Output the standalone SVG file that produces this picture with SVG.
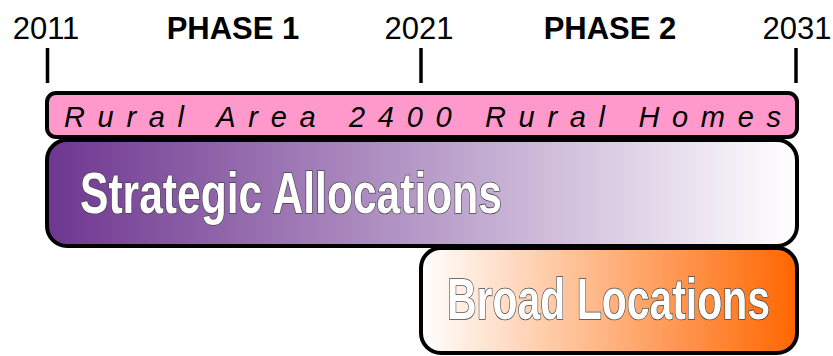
<svg xmlns="http://www.w3.org/2000/svg" width="833" height="356" viewBox="0 0 833 356">
<defs>
<style>
.yr{font-family:"Liberation Sans",Arial,sans-serif;font-size:31px;fill:#000;text-anchor:middle}
.ph{font-family:"Liberation Sans",Arial,sans-serif;font-size:31px;font-weight:bold;fill:#000;text-anchor:middle}
.tick{stroke:#000;stroke-width:3.5}
.box{stroke:#000;stroke-width:4}
.big{font-family:"Liberation Sans",Arial,sans-serif;font-weight:bold;font-size:40px;fill:#fff;stroke:#444;stroke-width:1.1;paint-order:stroke}
.rural{font-family:"Liberation Sans",Arial,sans-serif;font-style:italic;font-size:29px;fill:#000}
</style>
<linearGradient id="gP" x1="0" y1="0" x2="1" y2="0">
<stop offset="0" stop-color="#6e3690"/>
<stop offset="1" stop-color="#ffffff"/>
</linearGradient>
<linearGradient id="gO" x1="0" y1="0" x2="1" y2="0">
<stop offset="0" stop-color="#ffffff"/>
<stop offset="1" stop-color="#ff6600"/>
</linearGradient>
</defs>
<g id="axis">
<text class="yr" x="46" y="39">2011</text>
<text class="ph" x="233" y="39">PHASE 1</text>
<text class="yr" x="419" y="39">2021</text>
<text class="ph" x="610" y="39">PHASE 2</text>
<text class="yr" x="797" y="39">2031</text>
<line class="tick" x1="47.5" y1="48" x2="47.5" y2="83"/>
<line class="tick" x1="421" y1="48" x2="421" y2="83"/>
<line class="tick" x1="796" y1="48" x2="796" y2="83"/>
</g>
<g id="connectors"></g>
<g id="rural">
<rect class="box" x="47" y="93" width="750" height="44" rx="9" fill="#ff99cc"/>
<text class="rural" x="64" y="127" textLength="717" lengthAdjust="spacing">Rural Area 2400 Rural Homes</text>
</g>
<g id="strategic">
<rect class="box" x="47" y="140" width="750" height="106" rx="20" fill="url(#gP)"/>
<text class="big" transform="translate(80,213) scale(1,1.43)" x="0" y="0" textLength="422" lengthAdjust="spacingAndGlyphs">Strategic Allocations</text>
</g>
<g id="broad">
<rect class="box" x="421" y="248" width="376" height="105" rx="20" fill="url(#gO)"/>
<text class="big" transform="translate(447,319) scale(1,1.43)" x="0" y="0" textLength="323" lengthAdjust="spacingAndGlyphs">Broad Locations</text>
</g>
</svg>
